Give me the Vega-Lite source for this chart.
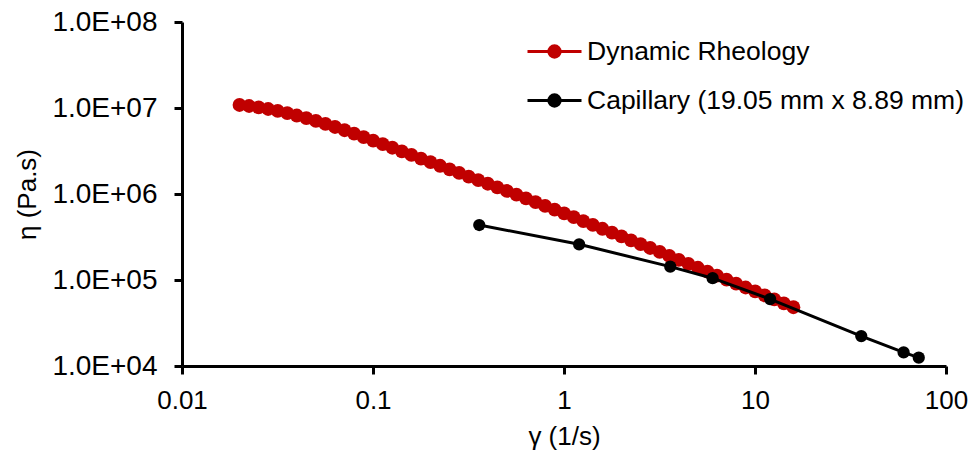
{
  "$schema": "https://vega.github.io/schema/vega-lite/v6.json",
  "width": 764,
  "height": 344,
  "autosize": {"type": "none"},
  "padding": {"left": 182, "top": 22, "right": 26, "bottom": 93},
  "background": "white",
  "config": {
    "view": {"stroke": null},
    "font": "Liberation Sans",
    "axis": {
      "grid": false,
      "domainColor": "black",
      "domainWidth": 3,
      "tickColor": "black",
      "tickWidth": 3,
      "tickSize": 8,
      "labelColor": "black",
      "titleColor": "black",
      "labelFont": "Liberation Sans",
      "titleFont": "Liberation Sans",
      "labelFontSize": 26,
      "titleFontSize": 26,
      "titleFontWeight": "normal",
      "labelFlush": false,
      "labelOverlap": false
    }
  },
  "datasets": {
    "dyn": [
      {"series": "Dynamic Rheology", "x": 0.02, "y": 10840000},
      {"series": "Dynamic Rheology", "x": 0.02244, "y": 10550000},
      {"series": "Dynamic Rheology", "x": 0.02518, "y": 10190000},
      {"series": "Dynamic Rheology", "x": 0.02825, "y": 9736000},
      {"series": "Dynamic Rheology", "x": 0.0317, "y": 9253000},
      {"series": "Dynamic Rheology", "x": 0.03557, "y": 8724000},
      {"series": "Dynamic Rheology", "x": 0.0399, "y": 8180000},
      {"series": "Dynamic Rheology", "x": 0.04477, "y": 7631000},
      {"series": "Dynamic Rheology", "x": 0.05024, "y": 7079000},
      {"series": "Dynamic Rheology", "x": 0.05637, "y": 6535000},
      {"series": "Dynamic Rheology", "x": 0.06325, "y": 6014000},
      {"series": "Dynamic Rheology", "x": 0.07096, "y": 5512000},
      {"series": "Dynamic Rheology", "x": 0.07962, "y": 5039000},
      {"series": "Dynamic Rheology", "x": 0.08934, "y": 4594000},
      {"series": "Dynamic Rheology", "x": 0.1002, "y": 4183000},
      {"series": "Dynamic Rheology", "x": 0.1125, "y": 3799000},
      {"series": "Dynamic Rheology", "x": 0.1262, "y": 3450000},
      {"series": "Dynamic Rheology", "x": 0.1416, "y": 3132000},
      {"series": "Dynamic Rheology", "x": 0.1589, "y": 2845000},
      {"series": "Dynamic Rheology", "x": 0.1783, "y": 2584000},
      {"series": "Dynamic Rheology", "x": 0.2, "y": 2346000},
      {"series": "Dynamic Rheology", "x": 0.2244, "y": 2130000},
      {"series": "Dynamic Rheology", "x": 0.2518, "y": 1935000},
      {"series": "Dynamic Rheology", "x": 0.2825, "y": 1757000},
      {"series": "Dynamic Rheology", "x": 0.317, "y": 1596000},
      {"series": "Dynamic Rheology", "x": 0.3557, "y": 1449000},
      {"series": "Dynamic Rheology", "x": 0.399, "y": 1316000},
      {"series": "Dynamic Rheology", "x": 0.4477, "y": 1195000},
      {"series": "Dynamic Rheology", "x": 0.5024, "y": 1085000},
      {"series": "Dynamic Rheology", "x": 0.5637, "y": 981500},
      {"series": "Dynamic Rheology", "x": 0.6325, "y": 887800},
      {"series": "Dynamic Rheology", "x": 0.7096, "y": 803000},
      {"series": "Dynamic Rheology", "x": 0.7962, "y": 726100},
      {"series": "Dynamic Rheology", "x": 0.8934, "y": 656800},
      {"series": "Dynamic Rheology", "x": 1.002, "y": 594000},
      {"series": "Dynamic Rheology", "x": 1.125, "y": 537300},
      {"series": "Dynamic Rheology", "x": 1.262, "y": 484700},
      {"series": "Dynamic Rheology", "x": 1.416, "y": 437200},
      {"series": "Dynamic Rheology", "x": 1.589, "y": 394300},
      {"series": "Dynamic Rheology", "x": 1.783, "y": 355700},
      {"series": "Dynamic Rheology", "x": 2.0, "y": 320900},
      {"series": "Dynamic Rheology", "x": 2.244, "y": 289400},
      {"series": "Dynamic Rheology", "x": 2.518, "y": 261100},
      {"series": "Dynamic Rheology", "x": 2.825, "y": 235600},
      {"series": "Dynamic Rheology", "x": 3.17, "y": 212000},
      {"series": "Dynamic Rheology", "x": 3.557, "y": 190700},
      {"series": "Dynamic Rheology", "x": 3.99, "y": 171500},
      {"series": "Dynamic Rheology", "x": 4.477, "y": 154300},
      {"series": "Dynamic Rheology", "x": 5.024, "y": 138800},
      {"series": "Dynamic Rheology", "x": 5.637, "y": 124900},
      {"series": "Dynamic Rheology", "x": 6.325, "y": 112400},
      {"series": "Dynamic Rheology", "x": 7.096, "y": 101100},
      {"series": "Dynamic Rheology", "x": 7.962, "y": 90940},
      {"series": "Dynamic Rheology", "x": 8.934, "y": 81810},
      {"series": "Dynamic Rheology", "x": 10.02, "y": 73600},
      {"series": "Dynamic Rheology", "x": 11.25, "y": 66220},
      {"series": "Dynamic Rheology", "x": 12.62, "y": 59570},
      {"series": "Dynamic Rheology", "x": 14.16, "y": 53590},
      {"series": "Dynamic Rheology", "x": 15.89, "y": 48220}
    ],
    "cap": [
      {"series": "Capillary (19.05 mm x 8.89 mm)", "x": 0.36, "y": 436000},
      {"series": "Capillary (19.05 mm x 8.89 mm)", "x": 1.2, "y": 260000},
      {"series": "Capillary (19.05 mm x 8.89 mm)", "x": 3.6, "y": 143000},
      {"series": "Capillary (19.05 mm x 8.89 mm)", "x": 6.0, "y": 105000},
      {"series": "Capillary (19.05 mm x 8.89 mm)", "x": 12.0, "y": 60000},
      {"series": "Capillary (19.05 mm x 8.89 mm)", "x": 36.0, "y": 22300},
      {"series": "Capillary (19.05 mm x 8.89 mm)", "x": 60.0, "y": 14400},
      {"series": "Capillary (19.05 mm x 8.89 mm)", "x": 72.0, "y": 12500}
    ]
  },
  "encoding": {
    "x": {
      "field": "x",
      "type": "quantitative",
      "scale": {"type": "log", "domain": [0.01, 100], "nice": false},
      "axis": {
        "title": "γ (1/s)",
        "values": [0.01, 0.1, 1, 10, 100],
        "format": "~g",
        "labelPadding": 13,
        "titlePadding": 10
      }
    },
    "y": {
      "field": "y",
      "type": "quantitative",
      "scale": {"type": "log", "domain": [10000, 100000000], "nice": false},
      "axis": {
        "title": "η (Pa.s)",
        "values": [10000, 100000, 1000000, 10000000, 100000000],
        "labelExpr": "'1.0E+0' + round(log(datum.value) / LN10)",
        "labelFontSize": 28,
        "labelPadding": 17,
        "titlePadding": 11
      }
    },
    "color": {
      "field": "series",
      "type": "nominal",
      "scale": {
        "domain": ["Dynamic Rheology", "Capillary (19.05 mm x 8.89 mm)"],
        "range": ["#C00000", "#000000"]
      },
      "legend": {
        "title": null,
        "orient": "none",
        "legendX": 344,
        "legendY": 1,
        "symbolType": "M-1,0L1,0M-0.21,0A0.21,0.21,0,1,1,0.21,0A0.21,0.21,0,1,1,-0.21,0Z",
        "symbolSize": 2916,
        "symbolStrokeWidth": 3,
        "labelFont": "Liberation Sans",
        "labelFontSize": 26.5,
        "labelColor": "black",
        "labelOffset": 4,
        "rowPadding": 7,
        "labelLimit": 600,
        "encode": {
          "symbols": {
            "update": {
              "fill": {"scale": "color", "field": "value"},
              "stroke": {"scale": "color", "field": "value"},
              "opacity": {"value": 1}
            }
          }
        }
      }
    }
  },
  "layer": [
    {
      "data": {"name": "dyn"},
      "mark": {"type": "line", "strokeWidth": 3, "point": {"filled": true, "size": 190, "opacity": 1}}
    },
    {
      "data": {"name": "cap"},
      "mark": {"type": "line", "strokeWidth": 3, "point": {"filled": true, "size": 150, "opacity": 1}}
    }
  ]
}
